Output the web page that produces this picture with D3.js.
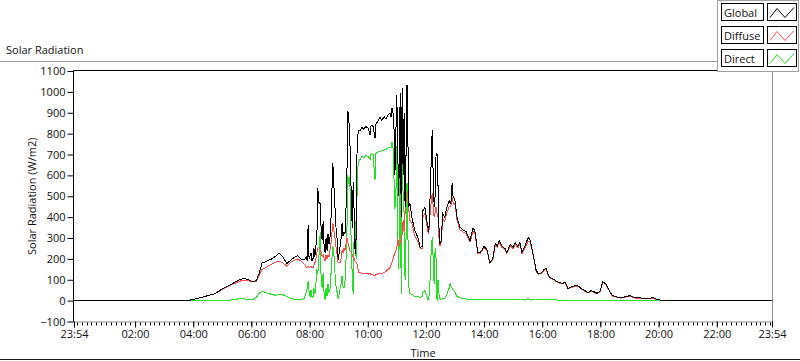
<!DOCTYPE html>
<html><head><meta charset="utf-8">
<script src="https://cdn.jsdelivr.net/npm/d3@7"></script>
<style>
body{margin:0;background:#fff}
svg{display:block}
text{font-family:"Segoe UI","Open Sans",sans-serif;font-size:11px;fill:#111}
</style>
</head><body>
<svg id="chart" width="800" height="361"></svg>
<script>
// ---------------- DATA ----------------
const times = ["23:54","00:00","03:49","04:04","04:24","04:45","05:01","05:16","05:32","05:43","05:53","06:01","06:10","06:16","06:22","06:28","06:34","06:42","06:51","06:57","07:05","07:13","07:22","07:30","07:36","07:42","07:49","07:53",
"07:55","07:57","07:59","08:01","08:03","08:05","08:07","08:09","08:11","08:13","08:15","08:17","08:19","08:22","08:24","08:26","08:28","08:30","08:32","08:34","08:36","08:38","08:40","08:42","08:44","08:46","08:48","08:50","08:53","08:55","08:57","08:59",
"09:01","09:03","09:05","09:07","09:09","09:11","09:13","09:15","09:17","09:19","09:21","09:23","09:26","09:28","09:30","09:32","09:34","09:36","09:38","09:40","09:42","09:44","09:48","09:52","09:56",
"10:01","10:05","10:07","10:11","10:15","10:17","10:21","10:25","10:29","10:34","10:38","10:42","10:46","10:48","10:50","10:52","10:54","10:56","10:58",
"11:00","11:02","11:04","11:07","11:09","11:11","11:13","11:15","11:17","11:19","11:21","11:23","11:25","11:27","11:31","11:37","11:44","11:48","11:52","11:54","11:58",
"12:02","12:04","12:06","12:08","12:10","12:13","12:15","12:17","12:19","12:21","12:23","12:25","12:27","12:29","12:31","12:35","12:39","12:43","12:48","12:50","12:52","12:54","12:56",
"13:00","13:04","13:10","13:16","13:23","13:31","13:37","13:41","13:47","13:52",
"14:00","14:06","14:12","14:18","14:23","14:27","14:31","14:37","14:43","14:47","14:54",
"15:00","15:04","15:10","15:14","15:18","15:24","15:31","15:35","15:41","15:47","15:51","15:57",
"16:04","16:08","16:12","16:16","16:22","16:30","16:37","16:43","16:47","16:53","16:59",
"17:08","17:14","17:22","17:28","17:34","17:41","17:47","17:53","17:59",
"18:05","18:12","18:18","18:24","18:32","18:41","18:51","19:01","19:09","19:22","19:32","19:42","19:49","19:55","20:03","20:09","23:54"];

const globalRad = [0,0,0,8,20,33,58,75,96,106,102,92,95,130,180,185,192,200,215,228,208,178,195,210,215,200,195,210,
190,360,200,215,230,190,200,250,210,260,300,540,470,465,330,290,380,260,230,300,240,320,270,300,380,520,660,560,420,330,290,195,
230,260,300,370,310,330,320,430,600,910,870,780,500,350,570,420,225,300,730,800,815,815,830,820,835,
825,792,840,835,777,845,860,878,865,880,870,890,897,880,922,900,850,600,800,
984,700,500,993,400,1017,600,900,450,700,1032,750,450,465,400,336,300,254,260,432,446,
380,350,330,450,600,816,600,450,500,706,700,550,350,274,280,417,400,446,480,465,480,562,500,
480,400,352,340,330,288,346,336,230,230,
260,245,182,200,274,260,288,260,250,230,270,
255,278,260,280,230,260,303,290,225,150,130,130,
150,154,125,110,105,92,85,82,90,58,65,
72,70,55,48,38,48,42,35,45,
91,78,50,25,19,14,18,24,15,13,11,12,14,8,3,0,0];

const diffuseRad = [0,0,0,8,20,33,55,72,90,98,96,90,92,120,150,155,165,175,185,190,180,165,185,195,200,190,175,160,
160,165,160,160,165,158,158,170,180,200,230,250,255,240,230,210,220,200,190,220,200,220,210,240,270,320,370,340,290,250,220,180,
185,180,200,240,230,250,240,270,300,280,260,240,230,220,210,200,190,185,175,150,135,135,130,128,132,
127,130,125,122,120,125,128,130,128,135,140,150,158,170,185,200,215,225,240,
250,300,260,280,290,320,384,330,420,470,495,523,430,384,370,310,280,250,250,400,417,
360,330,320,400,450,514,450,400,420,450,420,400,300,264,270,390,380,420,450,450,460,495,470,
460,390,340,330,320,280,330,325,225,225,
255,240,178,195,265,255,280,255,245,225,262,
250,270,255,272,225,252,285,280,220,145,127,128,
146,150,122,108,102,90,82,80,87,56,62,
70,68,53,45,36,46,40,32,42,
88,75,48,22,17,12,16,21,13,11,9,10,12,6,3,0,0];

const directRad = [0,0,0,0,0,0,0,2,8,10,5,3,15,35,45,40,35,30,25,30,28,20,10,5,5,5,10,40,
60,95,40,20,50,20,15,60,30,80,150,130,200,330,80,60,130,30,5,60,20,80,40,50,120,200,260,230,110,60,40,10,
30,60,80,120,70,60,90,180,320,600,560,590,260,120,30,330,380,200,520,650,670,675,690,685,695,
690,680,705,700,580,705,712,715,718,722,725,732,735,730,758,740,600,440,500,
740,300,150,720,30,706,500,420,100,300,562,300,60,34,30,20,20,15,20,40,48,
20,5,10,60,200,303,200,80,254,200,0,100,30,10,5,10,10,30,60,82,70,60,50,
40,20,15,10,8,5,5,5,5,5,
5,5,5,5,5,5,5,5,5,5,5,
5,5,5,5,5,5,10,5,3,3,3,3,
3,3,3,3,3,3,2,2,2,2,2,
2,2,2,2,2,2,2,2,2,
2,2,2,2,2,2,1,1,1,1,1,1,1,1,0,0,0];

const seriesNames = ["Global","Diffuse","Direct"];
const seriesColors = ["#000000","#ff4a4a","#22e022"];
const yTickValues = [-100,0,100,200,300,400,500,600,700,800,900,1000,1100];
const xTickLabels = ["23:54","02:00","04:00","06:00","08:00","10:00","12:00","14:00","16:00","18:00","20:00","22:00","23:54"];
const chartTitle = "Solar Radiation";
const yTitle = "Solar Radiation (W/m2)";
const xTitle = "Time";

// ---------------- PARSE ----------------
function parseSeq(list){
  let day = 0, prev = -1;
  return list.map((s,i)=>{
    const [h,m] = s.split(":").map(Number);
    const v = h*60+m;
    if (i>0 && v < prev) day++;
    prev = v;
    return new Date(2020,0,1+day,h,m);
  });
}
const dates = parseSeq(times);
const tStart = new Date(2020,0,1,23,54), tEnd = new Date(2020,0,2,23,54);
const tickDates = xTickLabels.map((s,i)=>{
  if (i===0) return tStart;
  if (i===xTickLabels.length-1) return tEnd;
  const [h,m]=s.split(":").map(Number); return new Date(2020,0,2,h,m);
});

// ---------------- LAYOUT ----------------
const L=74, R=772, T=71, B=321.5;
const svg = d3.select("#chart");
const x = d3.scaleTime().domain([tStart,tEnd]).range([L,R]);
const y = d3.scaleLinear().domain([-100,1100]).range([B,T]);

// chart title and frame line
svg.append("text").attr("x",6).attr("y",54).text(chartTitle);
svg.append("line").attr("x1",0).attr("x2",717).attr("y1",61.5).attr("y2",61.5).attr("stroke","#a0a0a0");
svg.append("line").attr("x1",0).attr("x2",800).attr("y1",359.5).attr("y2",359.5).attr("stroke","#1a1a1a");

// plot background
svg.append("rect").attr("x",L).attr("y",T).attr("width",R-L).attr("height",B-T).attr("fill","#fff");

// data lines
const plotG = svg.append("g");
const rows = [directRad, diffuseRad, globalRad];
const cols = [seriesColors[2], seriesColors[1], seriesColors[0]];
rows.forEach((vals,k)=>{
  const line = d3.line().x((d,i)=>x(dates[i])).y(d=>y(d));
  plotG.append("path").datum(vals).attr("d",line)
    .attr("fill","none").attr("stroke",cols[k]).attr("stroke-width",1)
    .attr("shape-rendering","crispEdges");
});

// borders
svg.append("line").attr("x1",L-0.5).attr("x2",R).attr("y1",T-0.5).attr("y2",T-0.5).attr("stroke","#000");
svg.append("line").attr("x1",L-0.5).attr("x2",L-0.5).attr("y1",T-0.5).attr("y2",B+0.5).attr("stroke","#000");
svg.append("line").attr("x1",R+0.5).attr("x2",R+0.5).attr("y1",T-0.5).attr("y2",B+0.5).attr("stroke","#909090");
svg.append("line").attr("x1",L-0.5).attr("x2",R+0.5).attr("y1",B+0.5).attr("y2",B+0.5).attr("stroke","#909090");

// y axis
const yAxis = d3.axisLeft(y).tickValues(yTickValues).tickSize(6).tickPadding(2).tickFormat(d3.format("d"));
const gy = svg.append("g").attr("transform",`translate(${L-0.5},0)`).call(yAxis);
gy.select(".domain").remove();
gy.selectAll(".tick line").attr("stroke","#000");
gy.selectAll(".tick text").attr("font-size",null).attr("font-family",null).attr("fill","#111");

// x axis minor ticks
const minor = d3.timeMinute.every(10).range(tStart, tEnd);
svg.append("g").selectAll("line").data(minor).join("line")
  .attr("x1",d=>Math.round(x(d))+0.5).attr("x2",d=>Math.round(x(d))+0.5)
  .attr("y1",B+1).attr("y2",B+4).attr("stroke","#000");
// major ticks
const xAxis = d3.axisBottom(x).tickValues(tickDates).tickSize(6).tickPadding(3)
  .tickFormat((d,i)=>xTickLabels[i]);
const gx = svg.append("g").attr("transform",`translate(0,${B})`).call(xAxis);
gx.select(".domain").remove();
gx.selectAll(".tick line").attr("stroke","#000");
gx.selectAll(".tick text").attr("font-size",null).attr("font-family",null).attr("fill","#111");

// axis titles
svg.append("text").attr("transform",`translate(36,${(T+B)/2}) rotate(-90)`).attr("text-anchor","middle").attr("fill","#2a1a10").text(yTitle);
svg.append("text").attr("x",(L+R)/2).attr("y",357).attr("text-anchor","middle").text(xTitle);

// legend
const lg = svg.append("g");
lg.append("rect").attr("x",717.5).attr("y",0.5).attr("width",81).attr("height",71).attr("fill","#fff").attr("stroke","#a0a0a0");
seriesNames.forEach((name,i)=>{
  const top = 3.5 + i*23;
  lg.append("rect").attr("x",721.5).attr("y",top).attr("width",42).attr("height",17).attr("fill","#fff").attr("stroke","#000");
  lg.append("text").attr("x",724).attr("y",top+13).text(name);
  lg.append("rect").attr("x",767.5).attr("y",top).attr("width",29).attr("height",17).attr("fill","#fff").attr("stroke","#000");
  lg.append("path").attr("d",`M770,${top+14} L777,${top+5} L785,${top+14} L794,${top+4}`)
    .attr("fill","none").attr("stroke",seriesColors[i]).attr("stroke-width",1);
});
</script>
</body></html>
